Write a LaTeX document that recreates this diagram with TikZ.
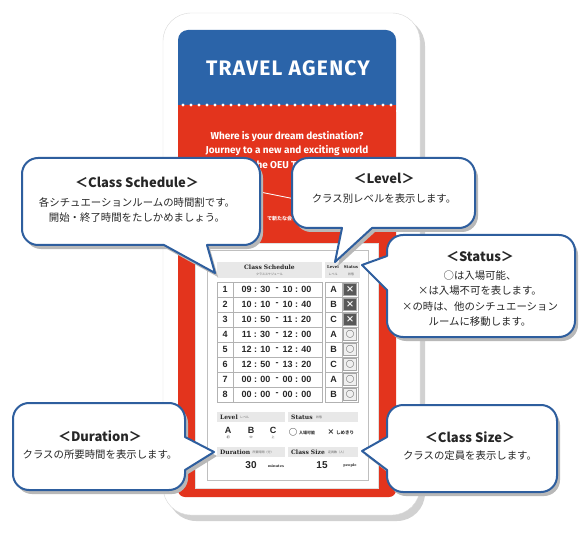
\documentclass[tikz,border=0pt]{standalone}
\usepackage{fontspec}
\setmainfont{Liberation Sans}
\newfontfamily\jp{Noto Sans CJK JP}
\newfontfamily\slab{DejaVu Serif}
\newfontfamily\dv{DejaVu Sans}
\newfontfamily\disp{Fira Sans}
\newfontfamily\dispwide[LetterSpace=6]{Fira Sans}
\usetikzlibrary{positioning}
\definecolor{tblue}{HTML}{2B64A9}
\definecolor{tred}{HTML}{E3341D}
\definecolor{bublue}{HTML}{2E5E9E}
\newcommand\btitle[1]{{\fontsize{13}{15}\selectfont\bfseries #1}}
\newcommand\bubble[8]{%
  \fill[bubshade, shift={(3,4)}] (#1+16,#2) #5 -- (#3-16,#2) arc[start angle=-90, end angle=0, radius=16] #6
    -- (#3,#4-16) arc[start angle=0, end angle=90, radius=16] #7
    -- (#1+16,#4) arc[start angle=90, end angle=180, radius=16] #8
    -- (#1,#2+16) arc[start angle=180, end angle=270, radius=16] -- cycle;
  \filldraw[bubframe] (#1+16,#2) #5 -- (#3-16,#2) arc[start angle=-90, end angle=0, radius=16] #6
    -- (#3,#4-16) arc[start angle=0, end angle=90, radius=16] #7
    -- (#1+16,#4) arc[start angle=90, end angle=180, radius=16] #8
    -- (#1,#2+16) arc[start angle=180, end angle=270, radius=16] -- cycle;}

\begin{document}
\begin{tikzpicture}[x=1pt, y=-1pt,
  bubframe/.style={fill=white, draw=bublue, line width=2pt, line join=round},
  bubshade/.style={fill=black!28},
  bubtxt/.style={font=\jp\fontsize{10.4}{15.5}\selectfont, align=center, text=black!85, inner sep=0pt},
  cell/.style={draw=black!30, fill=white, line width=0.5pt},
  hdr/.style={fill=black!9},
  num/.style={font=\bfseries\fontsize{9}{9}\selectfont, text=black!85, inner sep=0pt},
  slabl/.style={font=\slab\bfseries\fontsize{6}{6}\selectfont, text=black!85, inner sep=0pt},
  tinyjp/.style={font=\jp\fontsize{3}{3}\selectfont, text=black!60, inner sep=0pt},
  redtxt/.style={font=\disp\bfseries\fontsize{10}{12}\selectfont, text=white, inner sep=0pt}
]
\useasboundingbox (0,0) rectangle (583,537);
\fill[white] (0,0) rectangle (583,537);

\fill[black!18, rounded corners=28] (168,18) rectangle (425,521);
\filldraw[fill=white, draw=black!15, rounded corners=28] (163,13) rectangle (420,515);
\fill[tblue, rounded corners=10] (178,30) rectangle (396,120);
\fill[tred, rounded corners=7] (178,105) rectangle (396,497);
\fill[tred] (178,105) rectangle (396,125);
\foreach \i in {0,...,26}
  \fill[white] (183+8*\i,105) circle (1.6);

\node[font=\dispwide\bfseries\fontsize{21}{21}\selectfont, text=white] (brand) at (288,68) {TRAVEL AGENCY};
\node[redtxt] (wl1) at (287,137) {Where is your dream destination?};
\node[redtxt] (wl2) at (287,151) {Journey to a new and exciting world};
\node[redtxt] (wl3) at (292,166) {with the OEU Travel Agency};
\draw[white, line width=0.8pt] (240,188) -- (305,201);
\node[redtxt, font=\disp\bfseries\fontsize{5}{5}\selectfont] (wq) at (262,209) {?};
\node[tinyjp, text=white, font=\jp\bfseries\fontsize{5}{5}\selectfont] (wj) at (282,219) {で新たな会社};

\filldraw[fill=white, draw=black!12] (195,243) rectangle (378,488);
\draw[black!25, line width=0.5pt] (207,250) rectangle (368,480);

\fill[hdr] (217,262) rectangle (322,278);
\node[slabl] (hsched) at (269.5,267.5) {Class Schedule};
\node[tinyjp] (hschedj) at (269.5,274.5) {クラススケジュール};
\fill[hdr] (325,262) rectangle (360,278);
\node[slabl, font=\slab\bfseries\fontsize{4}{4}\selectfont] (hlev) at (333,267.5) {Level};
\node[slabl, font=\slab\bfseries\fontsize{4}{4}\selectfont] (hstat) at (351,267.5) {Status};
\node[tinyjp] (hlevj) at (333,274.5) {レベル};
\node[tinyjp] (hstatj) at (351,274.5) {状態};

\foreach \n/\ta/\tb/\lv/\sf/\sc/\sm in {
  1/09 : 30/10 : 00/A/black!65/white/×,
  2/10 : 10/10 : 40/B/black!65/white/×,
  3/10 : 50/11 : 20/C/black!65/white/×,
  4/11 : 30/12 : 00/A/black!6/black!75/○,
  5/12 : 10/12 : 40/B/black!6/black!75/○,
  6/12 : 50/13 : 20/C/black!6/black!75/○,
  7/00 : 00/00 : 00/A/black!6/black!75/○,
  8/00 : 00/00 : 00/B/black!6/black!75/○}{
  \pgfmathsetmacro\yy{267+15*\n}
  \draw[cell] (217,\yy) rectangle (322,\yy+15);
  \draw[black!30, line width=0.5pt] (233,\yy) -- (233,\yy+15);
  \draw[cell] (325,\yy) rectangle (358,\yy+15);
  \draw[black!30, line width=0.5pt] (342,\yy) -- (342,\yy+15);
  \filldraw[fill=\sf, draw=black!35, line width=0.4pt] (343.5,\yy+1.5) rectangle (356.5,\yy+13.5);
  \node[num] (r\n) at (225,\yy+7.5) {\n};
  \node[num] (s\n) at (256,\yy+7.5) {\ta};
  \node[num] (d\n) at (277,\yy+7.5) {-};
  \node[num] (e\n) at (297,\yy+7.5) {\tb};
  \node[num] (l\n) at (333.5,\yy+7.5) {\lv};
  \node[font=\jp\bfseries\fontsize{8.5}{8.5}\selectfont, text=\sc, inner sep=0pt] (m\n) at (350,\yy+7.5) {\sm};
}

\fill[hdr] (217,412) rectangle (285,422);
\node[slabl, anchor=west] (blev) at (220,417) {Level};
\node[tinyjp, right=2pt of blev] (blevj) {レベル};
\fill[hdr] (288,412) rectangle (358,422);
\node[slabl, anchor=west] (bstat) at (291,417) {Status};
\node[tinyjp, right=3pt of bstat] (bstatj) {状態};
\foreach \c/\k/\xx in {A/初/228, B/中/251, C/上/273}{
  \node[num] (lv\c) at (\xx,430) {\c};
  \node[tinyjp, text=black!80] (lk\c) at (\xx,437.5) {\k};
}
\node[font=\jp\bfseries\fontsize{8.5}{8.5}\selectfont, text=black!80, inner sep=0pt] (omark) at (293,432) {○};
\node[tinyjp, font=\jp\bfseries\fontsize{4}{4}\selectfont, text=black!80, anchor=west] (open) at (299,432.5) {入場可能};
\node[font=\dv\bfseries\fontsize{8}{8}\selectfont, text=black!80, inner sep=0pt] (xmark) at (331,432) {×};
\node[tinyjp, font=\jp\bfseries\fontsize{4.5}{4.5}\selectfont, text=black!80, anchor=west] (full) at (336,432.5) {しめきり};

\fill[hdr] (217,447) rectangle (285,457);
\node[slabl, anchor=west] (bdur) at (220,452) {Duration};
\node[tinyjp, right=2pt of bdur] (bdurj) {所要時間（分）};
\fill[hdr] (288,447) rectangle (358,457);
\node[slabl, anchor=west] (bsize) at (291,452) {Class Size};
\node[tinyjp, right=3pt of bsize] (bsizej) {定員数（人）};
\node[num, font=\bfseries\fontsize{10}{10}\selectfont] (vdur) at (251,465) {30};
\node[slabl, font=\slab\bfseries\fontsize{3.5}{3.5}\selectfont] (udur) at (276,466) {minutes};
\node[num, font=\bfseries\fontsize{10}{10}\selectfont] (vsize) at (322,465) {15};
\node[slabl, font=\slab\bfseries\fontsize{3.5}{3.5}\selectfont] (usize) at (350,466) {people};

\bubble{22}{158}{260}{245}{}{}{-- (207,245) -- (215,273) -- (164,245)}{}
\node[bubtxt] (nsched) at (137,200) {\btitle{＜Class Schedule＞}\\[3pt]各シチュエーションルームの時間割です。\\開始・終了時間をたしかめましょう。};

\bubble{292}{158}{475}{228}{}{}{-- (372,228) -- (335,262) -- (342,228)}{}
\node[bubtxt] (nlevel) at (384,188) {\btitle{＜Level＞}\\[3pt]クラス別レベルを表示します。};

\bubble{387}{235}{575}{337}{}{}{}{-- (387,290) -- (362,265) -- (387,256)}
\node[bubtxt] (nstatus) at (480,289) {\btitle{＜Status＞}\\[2pt]○は入場可能、\\×は入場不可を表します。\\×の時は、他のシチュエーション\\ルームに移動します。};

\bubble{13}{403}{185}{490}{}{-- (185,437) -- (214,452) -- (185,470)}{}{}
\node[bubtxt] (ndur) at (100,445) {\btitle{＜Duration＞}\\[2pt]クラスの所要時間を表示します。};

\bubble{387}{405}{557}{492}{}{}{}{-- (387,470) -- (362,451) -- (387,437)}
\node[bubtxt] (nsize) at (470,446) {\btitle{＜Class Size＞}\\[2pt]クラスの定員を表示します。};
\end{tikzpicture}
\end{document}
